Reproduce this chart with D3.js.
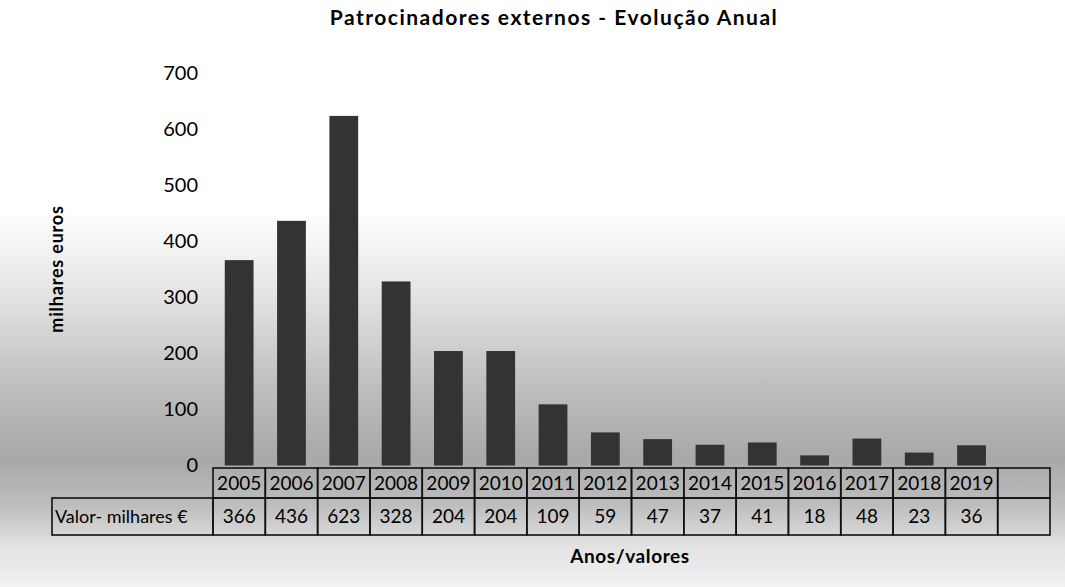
<!DOCTYPE html>
<html>
<head>
<meta charset="utf-8">
<script src="https://cdn.jsdelivr.net/npm/d3@7"></script>
<style>
  body { margin: 0; background: #fff; }
  text { font-family: Lato, "Open Sans", sans-serif; fill: #000; }
</style>
</head>
<body>
<div id="chart"></div>
<script>
// data
const years = ['2005','2006','2007','2008','2009','2010','2011','2012','2013','2014','2015','2016','2017','2018','2019']
const values = [366, 436, 623, 328, 204, 204, 109, 59, 47, 37, 41, 18, 48, 23, 36]
const yTicks = [0, 100, 200, 300, 400, 500, 600, 700]
const rowLabel = 'Valor- milhares €'

const W = 1065, H = 587
const margin = {top: 72, right: 15, bottom: 122, left: 213}

const svg = d3.select('#chart').append('svg')
  .attr('width', W)
  .attr('height', H)

// scanned grey background, light at the top and darker near the table
const grad = svg.append('defs').append('linearGradient')
  .attr('id', 'bg').attr('x1', 0).attr('y1', 0).attr('x2', 0).attr('y2', 1)
const stops = [[0, '#ffffff'], [0.36, '#ffffff'], [0.5, '#e4e4e4'], [0.66, '#bebebe'],
  [0.78, '#a8a8a8'], [0.86, '#bdbdbd'], [0.93, '#e2e2e2'], [1, '#f2f2f2']]
grad.selectAll('stop').data(stops).enter().append('stop')
  .attr('offset', d => d[0]).attr('stop-color', d => d[1])
svg.append('rect').attr('width', W).attr('height', H).attr('fill', 'url(#bg)')

// one extra empty column at the end, like the original
const cats = years.concat([''])
const x = d3.scaleBand()
  .domain(cats)
  .range([margin.left, W - margin.right])

const y = d3.scaleLinear()
  .domain([0, 700])
  .range([465.5, margin.top + 0.7])

// title
svg.append('text')
  .attr('x', 554).attr('y', 25)
  .attr('text-anchor', 'middle')
  .style('font-size', '21px').style('font-weight', 'bold')
  .style('letter-spacing', '1.5px')
  .text('Patrocinadores externos - Evolução Anual')

// y axis (labels only)
const yAxis = svg.append('g')
  .attr('transform', 'translate(198,0)')
  .call(d3.axisLeft(y).tickValues(yTicks).tickSize(0).tickPadding(0))
yAxis.select('.domain').remove()
yAxis.selectAll('text')
  .style('font-family', 'Lato, sans-serif')
  .style('font-size', '20px')
  .attr('fill', '#000')

svg.append('text')
  .attr('transform', 'translate(63,269) rotate(-90)')
  .attr('text-anchor', 'middle')
  .style('font-size', '18px').style('font-weight', 'bold')
  .style('letter-spacing', '0.8px')
  .text('milhares euros')

// bars
const bw = x.bandwidth() * 0.55
svg.selectAll('.bar')
  .data(years.map((d, i) => ({year: d, value: values[i]})))
  .enter().append('rect')
    .attr('class', 'bar')
    .attr('x', d => x(d.year) + (x.bandwidth() - bw) / 2)
    .attr('y', d => y(d.value))
    .attr('width', bw)
    .attr('height', d => y(0) - y(d.value))
    .attr('fill', '#333333')

// data table under the axis
const rowTop = 468, rowMid = 498, rowBot = 535
const labelLeft = 52
const table = svg.append('g')
  .attr('stroke', '#111').attr('stroke-width', 1.6).attr('fill', 'none')

table.selectAll('.yearcell')
  .data(cats).enter().append('rect')
    .attr('x', d => x(d)).attr('y', rowTop)
    .attr('width', x.bandwidth()).attr('height', rowMid - rowTop)
table.selectAll('.valcell')
  .data(cats).enter().append('rect')
    .attr('x', d => x(d)).attr('y', rowMid)
    .attr('width', x.bandwidth()).attr('height', rowBot - rowMid)
table.append('rect')
  .attr('x', labelLeft).attr('y', rowMid)
  .attr('width', margin.left - labelLeft).attr('height', rowBot - rowMid)

svg.selectAll('.yearlbl')
  .data(years).enter().append('text')
    .attr('x', d => x(d) + x.bandwidth() / 2)
    .attr('y', (rowTop + rowMid) / 2)
    .attr('dy', '0.35em')
    .attr('text-anchor', 'middle')
    .style('font-size', '19px')
    .text(d => d)

svg.selectAll('.vallbl')
  .data(values).enter().append('text')
    .attr('x', (d, i) => x(years[i]) + x.bandwidth() / 2)
    .attr('y', (rowMid + rowBot) / 2)
    .attr('dy', '0.35em')
    .attr('text-anchor', 'middle')
    .style('font-size', '19px')
    .text(d => d)

svg.append('text')
  .attr('x', labelLeft + 3).attr('y', (rowMid + rowBot) / 2)
  .attr('dy', '0.35em')
  .style('font-size', '18px')
  .text(rowLabel)

// x axis title
svg.append('text')
  .attr('x', 630).attr('y', 563)
  .attr('text-anchor', 'middle')
  .style('font-size', '19px').style('font-weight', 'bold')
  .style('letter-spacing', '0.6px')
  .text('Anos/valores')
</script>
</body>
</html>
